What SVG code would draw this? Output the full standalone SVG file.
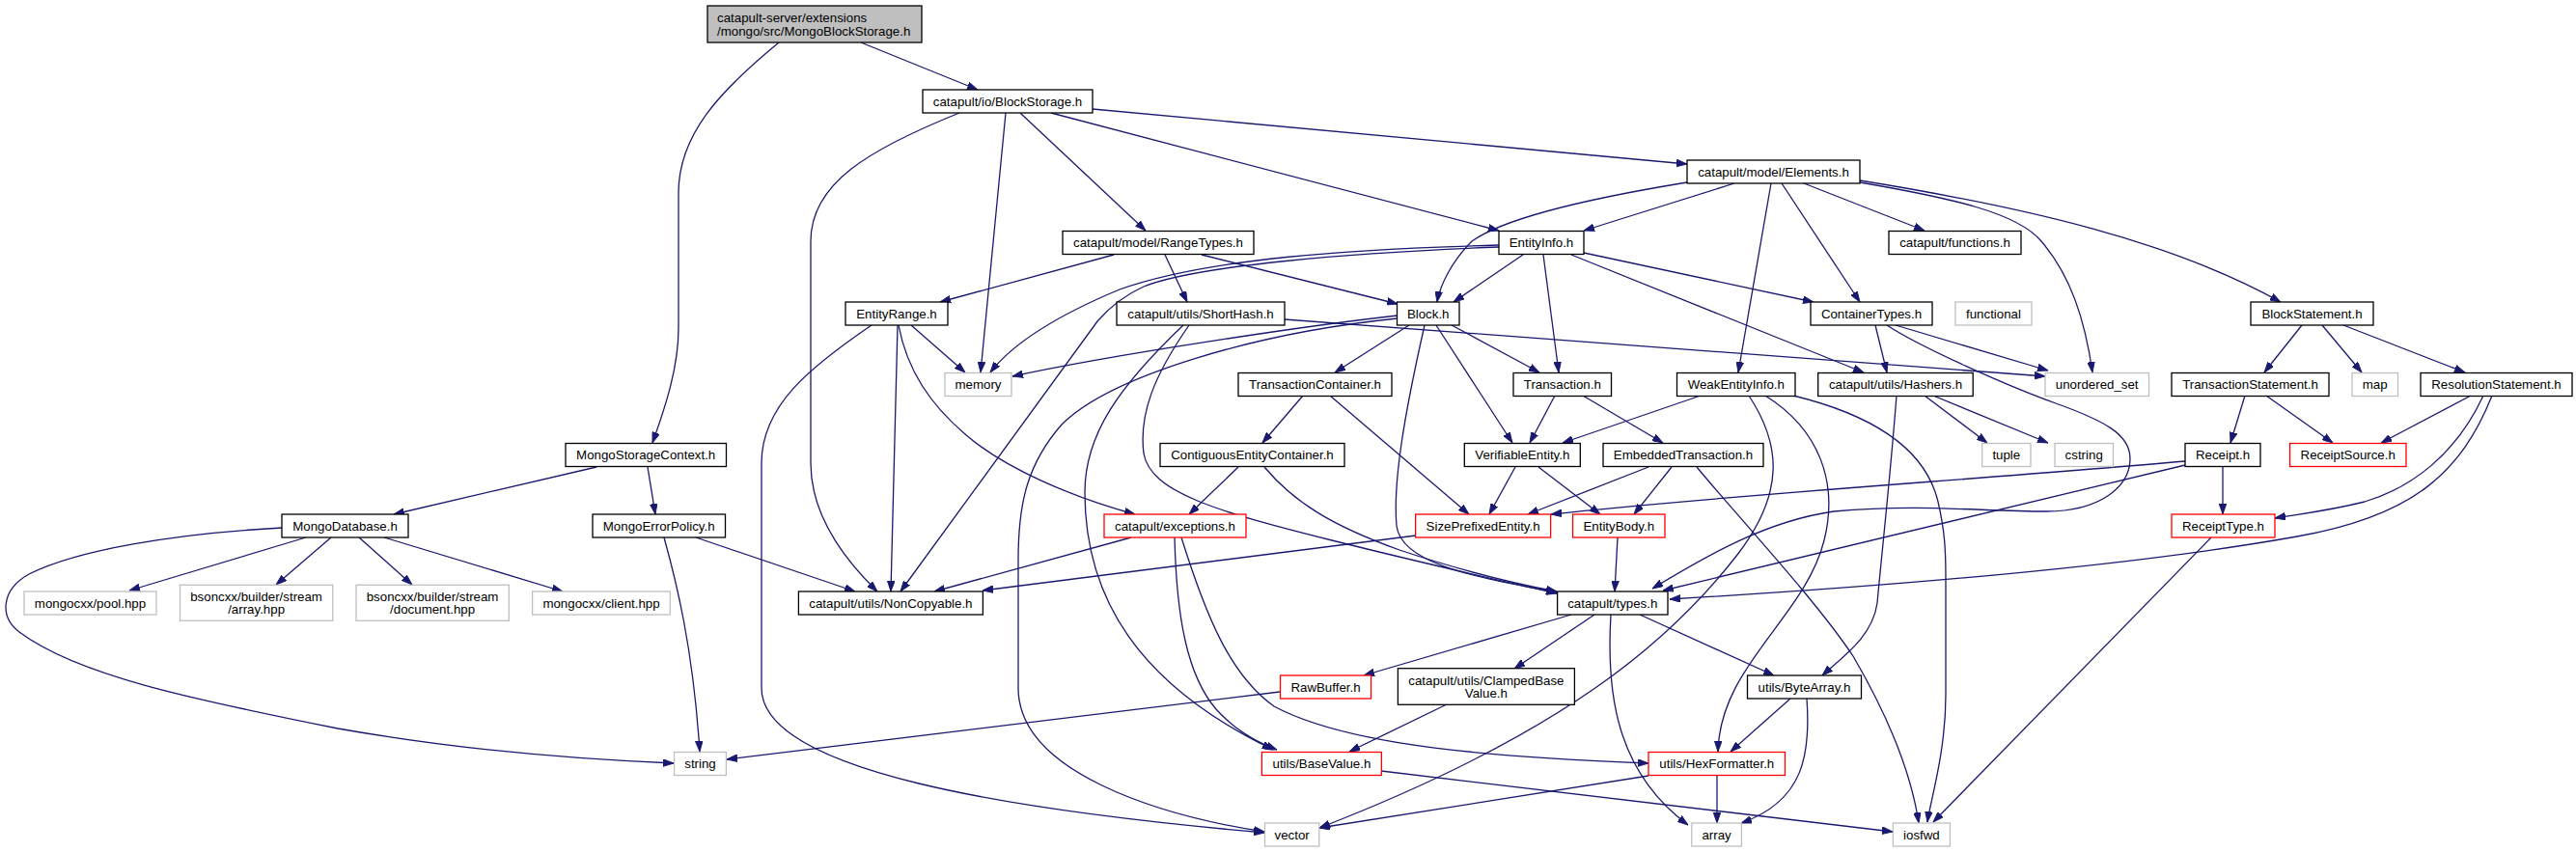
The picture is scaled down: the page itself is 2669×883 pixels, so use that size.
<svg xmlns="http://www.w3.org/2000/svg" width="2669" height="883" viewBox="0 0 2669 883">
<defs>
<marker id="a" viewBox="0 0 10 7" refX="10" refY="3.5" markerWidth="11" markerHeight="8" markerUnits="userSpaceOnUse" orient="auto">
<path d="M0,0 L10,3.5 L0,7 z" fill="#191970" stroke="#191970" stroke-width="0.8"/>
</marker>
<style>
.n rect{fill:#fff;stroke:#000;stroke-width:1.3}
.g rect{stroke:#bfbfbf}
.r rect{stroke:#ff0000}
.t rect{fill:#bfbfbf}
text{font-family:"Liberation Sans",Arial,Helvetica,sans-serif;font-size:13.3px;fill:#000;text-anchor:middle}
.l text{text-anchor:start}
#edges path{fill:none;stroke:#191970;stroke-width:1.3;marker-end:url(#a)}
</style>
</defs>
<rect width="2669" height="883" fill="#fff"/>
<g id="edges">
<path d="M892,44 L1013,93"/>
<path d="M807,44 C745,95 703,140 703,200 L703,340 C703,380 690,420 676,459"/>
<path d="M1132,113 L1748,170"/>
<path d="M1089,117 L1553,239"/>
<path d="M1057,117 L1187,239"/>
<path d="M1042,117 L1016,386"/>
<path d="M994,117 C900,155 840,190 840,250 L840,480 C840,530 870,575 909,613"/>
<path d="M1154,264 L974,313"/>
<path d="M1207,264 L1230,313"/>
<path d="M1245,264 L1448,315"/>
<path d="M1748,189 C1650,205 1560,225 1525,250 C1505,270 1492,295 1489,313"/>
<path d="M1797,190 L1641,239"/>
<path d="M1835,190 L1801,386"/>
<path d="M1846,190 L1927,313"/>
<path d="M1869,190 L1994,239"/>
<path d="M1927,189 C2020,205 2090,220 2115,250 C2145,285 2160,330 2168,386"/>
<path d="M1927,187 C2100,215 2250,250 2363,313"/>
<path d="M1578,264 L1506,313"/>
<path d="M1599,264 L1615,386"/>
<path d="M1628,264 L1931,386"/>
<path d="M1641,262 L1879,313"/>
<path d="M1553,254 C1400,258 1250,268 1160,300 C1100,325 1050,355 1026,386"/>
<path d="M1553,256 C1400,262 1240,275 1185,297 C1165,306 1150,318 1137,333 L933,613"/>
<path d="M944,337 L1000,386"/>
<path d="M931,337 C940,385 965,420 1000,450 C1040,485 1110,515 1176,533"/>
<path d="M930,337 L923,613"/>
<path d="M903,337 C840,380 789,420 789,480 L789,713 C789,800 1050,840 1310,863"/>
<path d="M1331,331 L2119,390"/>
<path d="M1226,337 C1160,400 1124,450 1124,510 C1124,620 1180,710 1319,777"/>
<path d="M1232,337 C1195,390 1180,430 1185,470 C1192,510 1260,530 1380,560 C1480,585 1560,603 1613,615"/>
<path d="M1448,327 C1350,338 1150,368 1049,390"/>
<path d="M1448,330 C1300,345 1150,390 1100,440 C1065,480 1055,520 1055,580 L1055,713 C1055,800 1200,845 1310,862"/>
<path d="M1460,337 L1383,386"/>
<path d="M1504,337 L1595,386"/>
<path d="M1488,337 L1567,459"/>
<path d="M1476,337 C1455,430 1443,500 1447,545 C1452,585 1530,598 1613,614"/>
<path d="M1350,410 L1308,459"/>
<path d="M1378,410 L1522,533"/>
<path d="M1283,484 L1232,533"/>
<path d="M1310,484 C1340,520 1380,545 1450,570 C1510,590 1570,605 1613,613"/>
<path d="M1611,410 L1585,459"/>
<path d="M1640,410 L1723,459"/>
<path d="M1762,410 L1619,459"/>
<path d="M1812,410 C1845,460 1850,510 1800,575 C1730,665 1620,760 1367,858"/>
<path d="M1829,410 C1885,445 1905,500 1890,560 C1870,640 1782,690 1780,779"/>
<path d="M1858,410 C1940,430 1995,465 2008,520 C2015,550 2016,570 2016,600 L2016,720 C2016,780 2000,830 1997,852"/>
<path d="M1994,410 L2059,459"/>
<path d="M2003,410 L2122,459"/>
<path d="M1965,410 C1958,500 1950,570 1945,625 C1940,660 1910,680 1888,700"/>
<path d="M1943,337 L1955,386"/>
<path d="M1964,337 L2122,384"/>
<path d="M1955,337 C1990,360 2080,400 2130,418 C2180,436 2207,450 2207,475 C2207,505 2175,530 2120,530 C2050,530 1990,522 1900,530 C1830,540 1770,575 1712,610"/>
<path d="M1708,484 L1583,533"/>
<path d="M1732,484 L1693,533"/>
<path d="M1758,484 C1800,535 1880,620 1920,680 C1955,740 1980,800 1988,853"/>
<path d="M1570,484 L1543,533"/>
<path d="M1594,484 L1658,533"/>
<path d="M2264,478 C2050,497 1800,512 1607,533"/>
<path d="M2264,482 L1723,612"/>
<path d="M2582,410 C2550,490 2500,535 2380,556 C2200,588 1950,608 1730,621"/>
<path d="M2560,410 L2467,459"/>
<path d="M2573,410 C2545,470 2500,505 2450,520 C2410,530 2380,533 2357,537"/>
<path d="M2385,337 L2346,386"/>
<path d="M2406,337 L2447,386"/>
<path d="M2428,337 L2554,386"/>
<path d="M2326,410 L2311,459"/>
<path d="M2348,410 L2417,459"/>
<path d="M2303,484 L2303,533"/>
<path d="M2291,557 L2003,852"/>
<path d="M1467,555 L1018,612"/>
<path d="M1676,557 L1673,613"/>
<path d="M1172,557 L968,613"/>
<path d="M1217,557 C1219,640 1230,700 1260,735 C1280,757 1300,768 1323,777"/>
<path d="M1224,557 C1250,640 1275,700 1320,732 C1400,775 1560,785 1708,791"/>
<path d="M1326,717 L753,787"/>
<path d="M292,547 C180,553 80,570 30,595 C0,612 0,640 20,655 C80,700 200,725 350,755 C480,778 600,787 698,791"/>
<path d="M688,557 C700,600 718,670 725,779"/>
<path d="M721,557 L886,613"/>
<path d="M317,557 L134,612"/>
<path d="M343,557 L286,606"/>
<path d="M372,557 L427,606"/>
<path d="M398,557 L583,613"/>
<path d="M618,484 L408,533"/>
<path d="M671,484 L679,533"/>
<path d="M1628,637 L1413,700"/>
<path d="M1652,637 L1569,693"/>
<path d="M1669,637 C1664,720 1675,800 1749,855"/>
<path d="M1699,637 L1838,700"/>
<path d="M1499,730 L1398,779"/>
<path d="M1855,724 L1793,779"/>
<path d="M1872,724 C1876,780 1870,830 1804,853"/>
<path d="M1779,804 L1779,853"/>
<path d="M1708,804 L1367,858"/>
<path d="M1431,799 L1961,862"/>
</g>
<g id="n_top" class="n t l"><rect x="733" y="6" width="222" height="38"/><text x="743" y="23">catapult-server/extensions</text><text x="743" y="36.5">/mongo/src/MongoBlockStorage.h</text></g>
<g id="n_blockstorage" class="n"><rect x="956" y="93" width="176" height="24"/><text x="1044" y="109.7">catapult/io/BlockStorage.h</text></g>
<g id="n_elements" class="n"><rect x="1748" y="166" width="179" height="24"/><text x="1837.5" y="182.7">catapult/model/Elements.h</text></g>
<g id="n_rangetypes" class="n"><rect x="1101" y="239.5" width="198" height="24"/><text x="1200" y="256.2">catapult/model/RangeTypes.h</text></g>
<g id="n_entityinfo" class="n"><rect x="1553" y="239.5" width="88" height="24"/><text x="1597" y="256.2">EntityInfo.h</text></g>
<g id="n_functions" class="n"><rect x="1957" y="239.5" width="137" height="24"/><text x="2025.5" y="256.2">catapult/functions.h</text></g>
<g id="n_entityrange" class="n"><rect x="876" y="313" width="106" height="24"/><text x="929" y="329.7">EntityRange.h</text></g>
<g id="n_shorthash" class="n"><rect x="1157" y="313" width="174" height="24"/><text x="1244" y="329.7">catapult/utils/ShortHash.h</text></g>
<g id="n_block" class="n"><rect x="1447.5" y="313" width="64.5" height="24"/><text x="1479.7" y="329.7">Block.h</text></g>
<g id="n_containertypes" class="n"><rect x="1876" y="313" width="126" height="24"/><text x="1939" y="329.7">ContainerTypes.h</text></g>
<g id="n_functional" class="n g"><rect x="2026" y="313" width="79" height="24"/><text x="2065.5" y="329.7">functional</text></g>
<g id="n_blockstatement" class="n"><rect x="2332" y="313" width="127" height="24"/><text x="2395.5" y="329.7">BlockStatement.h</text></g>
<g id="n_memory" class="n g"><rect x="979" y="386.5" width="69" height="24"/><text x="1013.5" y="403.2">memory</text></g>
<g id="n_transactioncontainer" class="n"><rect x="1283" y="386.5" width="159" height="24"/><text x="1362.5" y="403.2">TransactionContainer.h</text></g>
<g id="n_transaction" class="n"><rect x="1568" y="386.5" width="101.5" height="24"/><text x="1618.8" y="403.2">Transaction.h</text></g>
<g id="n_weakentityinfo" class="n"><rect x="1737.5" y="386.5" width="122.5" height="24"/><text x="1798.8" y="403.2">WeakEntityInfo.h</text></g>
<g id="n_hashers" class="n"><rect x="1883.7" y="386.5" width="160.5" height="24"/><text x="1964" y="403.2">catapult/utils/Hashers.h</text></g>
<g id="n_unordered_set" class="n g"><rect x="2119" y="386.5" width="107.5" height="24"/><text x="2172.7" y="403.2">unordered_set</text></g>
<g id="n_transactionstatement" class="n"><rect x="2250" y="386.5" width="163" height="24"/><text x="2331.5" y="403.2">TransactionStatement.h</text></g>
<g id="n_map" class="n g"><rect x="2437" y="386.5" width="47.5" height="24"/><text x="2460.7" y="403.2">map</text></g>
<g id="n_resolutionstatement" class="n"><rect x="2508" y="386.5" width="157" height="24"/><text x="2586.5" y="403.2">ResolutionStatement.h</text></g>
<g id="n_mongostoragecontext" class="n"><rect x="586" y="459.5" width="166.5" height="24"/><text x="669.2" y="476.2">MongoStorageContext.h</text></g>
<g id="n_contiguous" class="n"><rect x="1202" y="459.5" width="191" height="24"/><text x="1297.5" y="476.2">ContiguousEntityContainer.h</text></g>
<g id="n_verifiableentity" class="n"><rect x="1517.3" y="459.5" width="120" height="24"/><text x="1577.3" y="476.2">VerifiableEntity.h</text></g>
<g id="n_embeddedtransaction" class="n"><rect x="1661" y="459.5" width="166" height="24"/><text x="1744" y="476.2">EmbeddedTransaction.h</text></g>
<g id="n_tuple" class="n g"><rect x="2053.7" y="459.5" width="50.3" height="24"/><text x="2078.8" y="476.2">tuple</text></g>
<g id="n_cstring" class="n g"><rect x="2129" y="459.5" width="60.5" height="24"/><text x="2159.2" y="476.2">cstring</text></g>
<g id="n_receipt" class="n"><rect x="2264" y="459.5" width="78" height="24"/><text x="2303" y="476.2">Receipt.h</text></g>
<g id="n_receiptsource" class="n r"><rect x="2372.5" y="459.5" width="120.5" height="24"/><text x="2432.7" y="476.2">ReceiptSource.h</text></g>
<g id="n_mongodatabase" class="n"><rect x="292" y="533" width="131" height="24"/><text x="357.5" y="549.7">MongoDatabase.h</text></g>
<g id="n_mongoerrorpolicy" class="n"><rect x="614" y="533" width="137.5" height="24"/><text x="682.7" y="549.7">MongoErrorPolicy.h</text></g>
<g id="n_exceptions" class="n r"><rect x="1144" y="533" width="147" height="24"/><text x="1217.5" y="549.7">catapult/exceptions.h</text></g>
<g id="n_sizeprefixedentity" class="n r"><rect x="1466.6" y="533" width="140" height="24"/><text x="1536.6" y="549.7">SizePrefixedEntity.h</text></g>
<g id="n_entitybody" class="n r"><rect x="1629.6" y="533" width="95.4" height="24"/><text x="1677.3" y="549.7">EntityBody.h</text></g>
<g id="n_receipttype" class="n r"><rect x="2250" y="533" width="107" height="24"/><text x="2303.5" y="549.7">ReceiptType.h</text></g>
<g id="n_pool" class="n g"><rect x="25" y="613" width="137" height="24"/><text x="93.5" y="629.7">mongocxx/pool.hpp</text></g>
<g id="n_array_hpp" class="n g"><rect x="186.5" y="606.3" width="158.3" height="37"/><text x="265.6" y="622.9">bsoncxx/builder/stream</text><text x="265.6" y="636.2">/array.hpp</text></g>
<g id="n_document_hpp" class="n g"><rect x="369" y="606.3" width="158.3" height="37"/><text x="448.1" y="622.9">bsoncxx/builder/stream</text><text x="448.1" y="636.2">/document.hpp</text></g>
<g id="n_client" class="n g"><rect x="551.6" y="613" width="142.7" height="24"/><text x="623" y="629.7">mongocxx/client.hpp</text></g>
<g id="n_noncopyable" class="n"><rect x="827.4" y="613" width="191" height="24"/><text x="922.9" y="629.7">catapult/utils/NonCopyable.h</text></g>
<g id="n_types" class="n"><rect x="1613.6" y="613" width="114.4" height="24"/><text x="1670.8" y="629.7">catapult/types.h</text></g>
<g id="n_rawbuffer" class="n r"><rect x="1326.5" y="700" width="94" height="24"/><text x="1373.5" y="716.7">RawBuffer.h</text></g>
<g id="n_clampedbasevalue" class="n"><rect x="1448.4" y="692.7" width="183" height="37.6"/><text x="1539.9" y="709.5">catapult/utils/ClampedBase</text><text x="1539.9" y="722.9">Value.h</text></g>
<g id="n_bytearray" class="n"><rect x="1810.5" y="700" width="118" height="24"/><text x="1869.5" y="716.7">utils/ByteArray.h</text></g>
<g id="n_string" class="n g"><rect x="698.6" y="779.5" width="53.8" height="24"/><text x="725.5" y="796.2">string</text></g>
<g id="n_basevalue" class="n r"><rect x="1307.4" y="779.5" width="124" height="24"/><text x="1369.4" y="796.2">utils/BaseValue.h</text></g>
<g id="n_hexformatter" class="n r"><rect x="1708" y="779.5" width="141.5" height="24"/><text x="1778.8" y="796.2">utils/HexFormatter.h</text></g>
<g id="n_vector" class="n g"><rect x="1310.5" y="853" width="56.3" height="24"/><text x="1338.7" y="869.7">vector</text></g>
<g id="n_array" class="n g"><rect x="1752.8" y="853" width="51.6" height="24"/><text x="1778.6" y="869.7">array</text></g>
<g id="n_iosfwd" class="n g"><rect x="1961.4" y="853" width="59" height="24"/><text x="1990.9" y="869.7">iosfwd</text></g>
</svg>
